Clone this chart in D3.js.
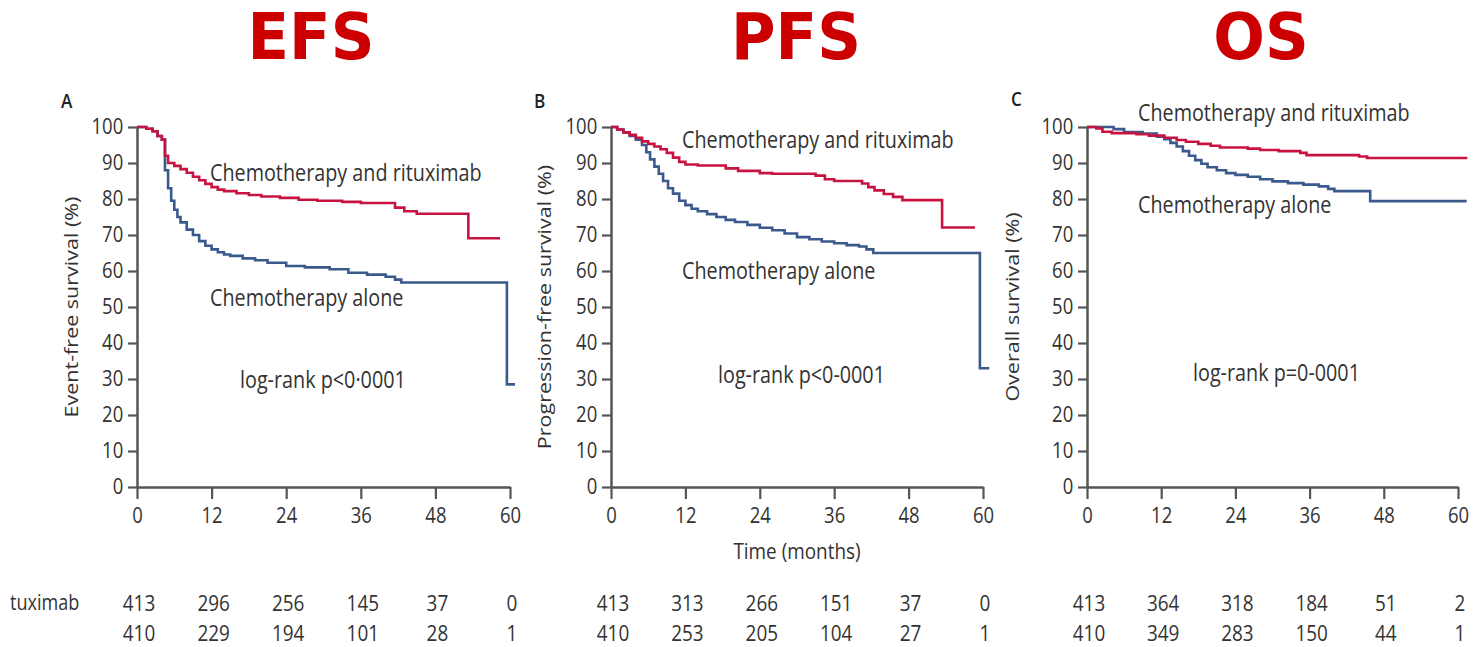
<!DOCTYPE html>
<html>
<head>
<meta charset="utf-8">
<script src="https://cdn.jsdelivr.net/npm/d3@7"></script>
<style>
  body { margin: 0; background: #fff; }
  svg { display: block; font-family: "Open Sans", sans-serif; }
</style>
</head>
<body>
<svg id="chart" width="1477" height="647"></svg>
<script>
// time ticks (months) and survival ticks (%)
const monthTicks = [0, 12, 24, 36, 48, 60];
const pctTicks = [0, 10, 20, 30, 40, 50, 60, 70, 80, 90, 100];

// Kaplan-Meier steps: [month, survival %]
const efsRchemo = [[0,100],[1.5,99.5],[2.5,98.8],[3.3,97.5],[4,96.5],[4.5,92],[5,90],[6,89.2],[7,88.3],[8,87.3],[9,86.2],[10,85.2],[11,84.2],[12,83.3],[13,82.6],[14,82.2],[16,81.6],[18,81.1],[20,80.7],[23,80.3],[26,79.8],[29,79.5],[33,79.2],[36,78.9],[41.5,77.6],[43,76.6],[45,75.9],[53.3,69.1],[58.4,69.1]];
const efsChemo = [[0,100],[1.5,99.5],[2.5,98.8],[3.3,97.5],[4,96.5],[4.5,88],[5,83],[5.5,79.5],[6,77],[6.5,75],[7,73.5],[8,71.5],[9,70],[10,68.3],[11,67],[12,66],[13,65.2],[14,64.6],[15,64.2],[17,63.5],[19,63],[21,62.3],[24,61.4],[27,61],[31,60.5],[34,59.5],[37,59],[40,58.4],[41.5,57.6],[42.5,56.8],[59.5,28.5],[60.8,28.5]];

const pfsRchemo = [[0,100],[1,99.3],[2,98.5],[3,97.8],[4,97],[5,96],[6,95.3],[7,94.6],[8,93.8],[9,92.8],[10,91.5],[11,90.3],[12,89.6],[14,89.3],[18.5,88.5],[20.5,87.8],[24,87.2],[26,87],[33,86.5],[34.5,85.5],[36,85],[40.5,84.3],[41.5,83.3],[42.5,82.4],[44,81.4],[45.5,80.6],[47,79.7],[53.4,72.1],[58.7,72.1]];
const pfsChemo = [[0,100],[1,99.3],[2,98.5],[3,97.5],[4,96.5],[5,95],[5.7,93],[6.3,91],[7,89],[7.7,87],[8.4,85],[9.2,83],[10,81.5],[11,79.5],[12,78.3],[13,77.3],[14,76.6],[15.5,75.8],[17,75],[18.5,74.2],[20,73.6],[22,72.8],[24,72],[26,71.3],[28,70.4],[30,69.4],[32,68.8],[34,68.2],[36,67.7],[38,67.2],[40,66.8],[41.2,66],[42.3,65],[59.5,33],[61,33]];

const osRchemo = [[0,100],[1.5,99.6],[2.5,98.7],[4,98.3],[8,98],[10,97.6],[12.5,97],[14.5,96.4],[16,95.9],[18,95.3],[20,94.8],[21.5,94.3],[26,94],[28,93.6],[31,93.3],[34.5,92.8],[35.5,92.2],[44,91.8],[45.3,91.4],[61.5,91.4]];
const osChemo = [[0,100],[4.3,99.4],[6,98.6],[9,98.2],[11.3,97.3],[12.5,96.6],[13.5,95.6],[14.5,94.6],[15.5,93.3],[16.5,92],[17.5,90.8],[18.5,89.8],[19.5,88.8],[21,88],[22.5,87.2],[24,86.7],[26,86.2],[28,85.5],[30,84.9],[32.5,84.4],[35,84],[37.5,83.5],[39,82.8],[40,82.2],[45.8,79.4],[61.4,79.4]];

// numbers at risk at each month tick
const efsRiskRchemo = [413, 296, 256, 145, 37, 0];
const efsRiskChemo = [410, 229, 194, 101, 28, 1];
const pfsRiskRchemo = [413, 313, 266, 151, 37, 0];
const pfsRiskChemo = [410, 253, 205, 104, 27, 1];
const osRiskRchemo = [413, 364, 318, 184, 51, 2];
const osRiskChemo = [410, 349, 283, 150, 44, 1];

const panelTitles = ['EFS', 'PFS', 'OS'];
const panelLetters = ['A', 'B', 'C'];
const yLabels = ['Event-free survival (%)', 'Progression-free survival (%)', 'Overall survival (%)'];
const pLabels = ['log-rank p<0\u00b70001', 'log-rank p<0-0001', 'log-rank p=0-0001'];
const rchemoLabel = 'Chemotherapy and rituximab';
const chemoLabel = 'Chemotherapy alone';
const riskRowLabel = 'tuximab'; // the source crops this row label at the left edge

const RED = '#c8123f';
const BLUE = '#3a5a8e';
const INK = '#333';
const AXIS = '#555';
const SX = 0.86; // glyphs in the source are squeezed horizontally

// layout per panel
const panels = [
  { x0: 137, x1: 510, titleX: 311, letterX: 61, letterY: 108, yLabX: 72,
    rLab: [210, 173], cLab: [210, 298], pLab: [240, 380],
    rchemo: efsRchemo, chemo: efsChemo, riskR: efsRiskRchemo, riskC: efsRiskChemo },
  { x0: 611, x1: 983, titleX: 796, letterX: 534, letterY: 108, yLabX: 545,
    rLab: [682, 140], cLab: [682, 271], pLab: [718, 375],
    rchemo: pfsRchemo, chemo: pfsChemo, riskR: pfsRiskRchemo, riskC: pfsRiskChemo },
  { x0: 1087, x1: 1458, titleX: 1261, letterX: 1011, letterY: 106, yLabX: 1013,
    rLab: [1138, 113], cLab: [1138, 205], pLab: [1193, 373],
    rchemo: osRchemo, chemo: osChemo, riskR: osRiskRchemo, riskC: osRiskChemo }
];

const yTop = 127;
const yBottom = 487;
const riskRow1 = 603;
const riskRow2 = 633;

const svg = d3.select('#chart');

function squeezedText(parent, x, y, txt, size, anchor) {
  return parent.append('text')
    .attr('transform', `translate(${x},${y}) scale(${SX},1)`)
    .attr('dy', '0.35em')
    .attr('text-anchor', anchor || 'start')
    .attr('font-size', size)
    .attr('fill', INK)
    .text(txt);
}

panels.forEach((p, i) => {
  const x = d3.scaleLinear().domain([0, 60]).range([p.x0, p.x1]);
  const y = d3.scaleLinear().domain([0, 100]).range([yBottom, yTop]);

  // big red title
  svg.append('text')
    .attr('transform', `translate(${p.titleX},59) scale(0.95,1)`)
    .attr('text-anchor', 'middle')
    .attr('font-family', '"DejaVu Sans", sans-serif')
    .attr('font-weight', 'bold')
    .attr('font-size', 64)
    .attr('fill', '#cc0000')
    .text(panelTitles[i]);

  // panel letter
  svg.append('text')
    .attr('transform', `translate(${p.letterX},${p.letterY}) scale(${SX},1)`)
    .attr('font-size', 20)
    .attr('font-weight', 600)
    .attr('fill', '#222')
    .text(panelLetters[i]);

  // axes
  const yAxis = svg.append('g')
    .attr('transform', `translate(${p.x0},0)`)
    .call(d3.axisLeft(y).tickValues(pctTicks).tickSize(9).tickSizeOuter(0).tickPadding(7));
  const xAxis = svg.append('g')
    .attr('transform', `translate(0,${yBottom})`)
    .call(d3.axisBottom(x).tickValues(monthTicks).tickSize(12).tickSizeOuter(0).tickPadding(9));

  [yAxis, xAxis].forEach(ax => {
    ax.select('.domain').attr('stroke', AXIS).attr('stroke-width', 2.5);
    ax.selectAll('.tick line').attr('stroke', AXIS).attr('stroke-width', 2.2);
    ax.selectAll('.tick text')
      .attr('fill', INK)
      .attr('font-size', 21.5)
      .attr('font-family', '"Open Sans", sans-serif')
      .attr('transform', `scale(${SX},1)`);
  });

  // y axis title
  svg.append('text')
    .attr('transform', `translate(${p.yLabX},307) scale(${SX},1) rotate(-90)`)
    .attr('text-anchor', 'middle')
    .attr('dy', '0.35em')
    .attr('font-size', 21.5)
    .attr('fill', INK)
    .text(yLabels[i]);

  // curves
  const line = d3.line()
    .x(d => x(d[0]))
    .y(d => y(d[1]))
    .curve(d3.curveStepAfter);

  svg.append('path')
    .datum(p.chemo)
    .attr('d', line)
    .attr('fill', 'none')
    .attr('stroke', BLUE)
    .attr('stroke-width', 2.6);

  svg.append('path')
    .datum(p.rchemo)
    .attr('d', line)
    .attr('fill', 'none')
    .attr('stroke', RED)
    .attr('stroke-width', 2.6);

  // curve labels
  squeezedText(svg, p.rLab[0], p.rLab[1], rchemoLabel, 23);
  squeezedText(svg, p.cLab[0], p.cLab[1], chemoLabel, 23);
  squeezedText(svg, p.pLab[0], p.pLab[1], pLabels[i], 23);

  // numbers at risk
  monthTicks.forEach((m, j) => {
    squeezedText(svg, x(m) + 2, riskRow1, p.riskR[j], 22, 'middle');
    squeezedText(svg, x(m) + 2, riskRow2, p.riskC[j], 22, 'middle');
  });
});

// x axis title under the middle panel
squeezedText(svg, 797, 551, 'Time (months)', 22, 'middle');

// row label of the numbers at risk
squeezedText(svg, 10, riskRow1, riskRowLabel, 21, 'start');
</script>
</body>
</html>
